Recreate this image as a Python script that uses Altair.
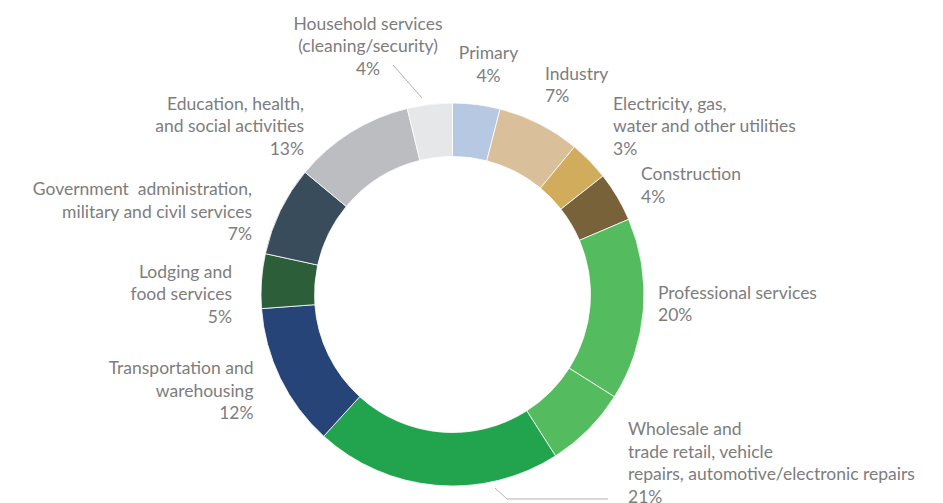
import altair as alt
import pandas as pd

# ---- data ----
sectors = [
    "Primary", "Industry", "Electricity, gas, water and other utilities",
    "Construction", "Professional services", "(unlabelled)",
    "Wholesale and trade retail", "Transportation and warehousing",
    "Lodging and food services", "Government administration",
    "Education, health, and social activities", "Household services",
]
shares = [4.0, 7.0, 3.4, 4.2, 15.4, 7.0, 20.8, 12.1, 4.6, 7.6, 10.2, 3.8]
colors = ["#b7c9e2", "#d9c09b", "#d2ac5d", "#78623a", "#55bb5f", "#55bb5f",
          "#22a44e", "#264478", "#2d5e3a", "#384c5b", "#bcbdc0", "#e6e7e9"]

label_texts = [
    "Household services\n(cleaning/security)\n4%",
    "Primary\n4%",
    "Industry\n7%",
    "Electricity, gas,\nwater and other utilities\n3%",
    "Construction\n4%",
    "Professional services\n20%",
    "Wholesale and\ntrade retail, vehicle\nrepairs, automotive/electronic repairs\n21%",
    "Transportation and\nwarehousing\n12%",
    "Lodging and\nfood services\n5%",
    "Government \u00a0administration,\nmilitary and civil services\n7%",
    "Education, health,\nand social activities\n13%",
]

# ---- layout (page pixel positions of label anchors, first-line baseline) ----
label_x = [368, 488.5, 545, 613, 641, 658, 628, 253.5, 232, 252, 304]
label_y = [29.5, 59, 79.5, 109.5, 180, 298.5, 435, 374, 277.5, 195, 109.5]
label_align = ["center", "center", "left", "left", "left", "left", "left",
               "right", "right", "right", "right"]

leader_x = [393, 495, 507]
leader_y = [65, 488, 499]
leader_x2 = [422, 507, 608]
leader_y2 = [98, 499, 499]

W, H = 927, 495
CX, CY = 452.5 - 8, 294.5 - 8
TEXT_COLOR = "#7d7d7d"
FONT = "Lato"

slices = pd.DataFrame({"sector": sectors, "share": shares,
                       "idx": list(range(len(sectors)))})
labels = pd.DataFrame({"text": label_texts, "x": label_x, "y": label_y,
                       "align": label_align})
leaders = pd.DataFrame({"x": leader_x, "y": leader_y,
                        "x2": leader_x2, "y2": leader_y2})

xs = alt.Scale(domain=[8, 8 + W], range=[0, W])
ys = alt.Scale(domain=[8, 8 + H], range=[0, H])

donut = alt.Chart(slices).mark_arc(
    innerRadius=138, outerRadius=191.5, stroke="white", strokeWidth=0.8,
    x=CX, y=CY,
).encode(
    theta=alt.Theta("share:Q", stack=True),
    order=alt.Order("idx:Q"),
    color=alt.Color("sector:N", scale=alt.Scale(domain=sectors, range=colors),
                    legend=None),
)

def text_layer(al):
    return alt.Chart(labels).transform_filter(
        alt.datum.align == al
    ).mark_text(
        align=al, baseline="alphabetic", lineBreak="\n", lineHeight=22.5,
        font=FONT, fontSize=17.5, color=TEXT_COLOR,
    ).encode(
        x=alt.X("x:Q", scale=xs, axis=None),
        y=alt.Y("y:Q", scale=ys, axis=None),
        text="text:N",
    )

lines = alt.Chart(leaders).mark_rule(color="#b3b3b3", strokeWidth=1).encode(
    x=alt.X("x:Q", scale=xs, axis=None),
    y=alt.Y("y:Q", scale=ys, axis=None),
    x2="x2:Q",
    y2="y2:Q",
)

chart = alt.layer(
    donut, lines, text_layer("left"), text_layer("right"), text_layer("center")
).properties(
    width=W, height=H, padding=0, autosize=alt.AutoSizeParams(type="none"),
    background="white",
).configure_view(stroke=None)

chart.save("out.html", embed_options={"renderer": "svg", "actions": False})
